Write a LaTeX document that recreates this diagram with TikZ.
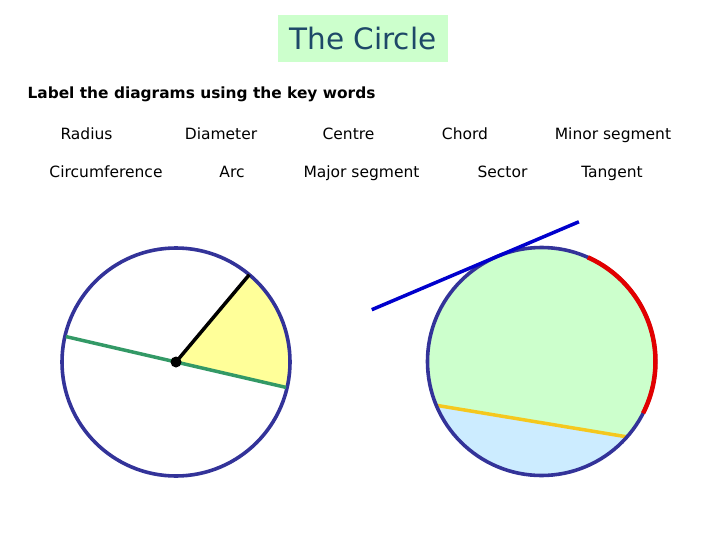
\documentclass[tikz,border=0pt]{standalone}
\usepackage{fontspec}
\setmainfont{DejaVu Sans}
\usetikzlibrary{calc}
\definecolor{navy}{RGB}{51,51,153}
\definecolor{titlecol}{RGB}{30,72,104}
\definecolor{titlebg}{RGB}{204,255,204}
\definecolor{diamgreen}{RGB}{51,153,102}
\definecolor{sectoryellow}{RGB}{255,255,153}
\definecolor{majorgreen}{RGB}{204,255,204}
\definecolor{minorblue}{RGB}{204,236,255}
\definecolor{arcred}{RGB}{225,0,0}
\definecolor{chordgold}{RGB}{245,200,30}
\definecolor{tanblue}{RGB}{0,0,204}
\tikzset{
  word/.style={font=\fontsize{15.5}{18}\selectfont, text=black, inner sep=0pt,
    text height=11.5pt, text depth=3.5pt, anchor=center},
  outline/.style={draw=navy, line width=3.6pt},
}
\begin{document}
\begin{tikzpicture}[x=1pt,y=-1pt]
\useasboundingbox (0,0) rectangle (720,540);
% title
\node[fill=titlebg, minimum width=170pt, minimum height=47pt, inner sep=0pt,
      text=titlecol, font=\fontsize{29.5}{34}\selectfont] (title) at (363,39) {The Circle};
\node[font=\bfseries\fontsize{15.4}{18}\selectfont, anchor=center, inner sep=0pt,
      text height=11.5pt, text depth=3.5pt] (instr) at (201.5,95) {Label the diagrams using the key words};
% key words
\node[word] (w1) at (86.5,136) {Radius};
\node[word] (w2) at (221,136) {Diameter};
\node[word] (w3) at (348.5,136) {Centre};
\node[word] (w4) at (465,136) {Chord};
\node[word] (w5) at (613,136) {Minor segment};
\node[word] (w6) at (106,174) {Circumference};
\node[word] (w7) at (232,174) {Arc};
\node[word] (w8) at (361.5,174) {Major segment};
\node[word] (w9) at (502.5,174) {Sector};
\node[word] (w10) at (612,174) {Tangent};
% left circle
\coordinate (L) at (176,362);
\coordinate (Lr) at ($(L)+(-50:114)$);
\coordinate (Ls) at ($(L)+(13:114)$);
\coordinate (Ld1) at ($(L)+(193:113)$);
\coordinate (Ld2) at ($(L)+(13:113)$);
\fill[sectoryellow] (L) -- (Ls) arc[start angle=13, end angle=-50, radius=114] -- cycle;
\draw[outline] (L) circle[radius=114];
\draw[diamgreen, line width=3.5pt] (Ld1) -- (Ld2);
\draw[black, line width=3.5pt] (L) -- (Lr);
\fill[black] (L) circle[radius=5.5];
% right circle
\coordinate (C) at (541.5,361.5);
\coordinate (Ca) at ($(C)+(157.4:114)$);
\coordinate (Cb) at ($(C)+(41.4:114)$);
\coordinate (Cr) at ($(C)+(27:114)$);
\coordinate (T) at ($(C)+(-113:114)$);
\coordinate (T1) at ($(T)+(157:136)$);
\coordinate (T2) at ($(T)+(-23:89)$);
\fill[majorgreen] (C) circle[radius=114];
\fill[minorblue] (Ca) arc[start angle=157.4, end angle=41.4, radius=114] -- cycle;
\draw[chordgold, line width=3.5pt] (Ca) -- (Cb);
\draw[outline] (C) circle[radius=114];
\draw[arcred, line width=4.5pt] (Cr) arc[start angle=27, end angle=-66, radius=114];
\draw[tanblue, line width=3.5pt] (T1) -- (T2);
\end{tikzpicture}
\end{document}
